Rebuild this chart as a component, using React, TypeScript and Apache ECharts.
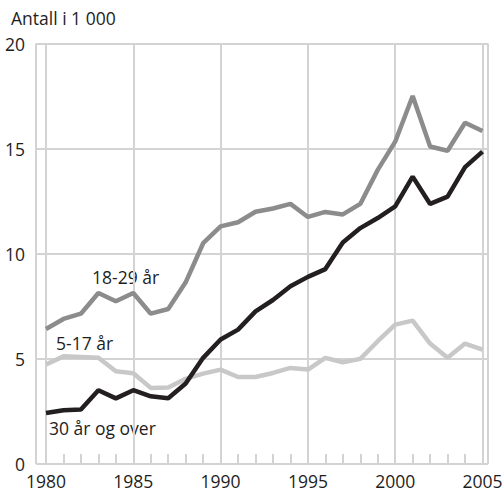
import React, { useEffect, useRef } from "react";
import * as echarts from "echarts";

const years = [1980,1981,1982,1983,1984,1985,1986,1987,1988,1989,1990,1991,1992,1993,1994,1995,1996,1997,1998,1999,2000,2001,2002,2003,2004,2005];
const age18to29 = [6.42,6.9,7.15,8.13,7.74,8.13,7.15,7.37,8.64,10.5,11.3,11.5,12.0,12.15,12.37,11.75,11.99,11.87,12.37,13.99,15.33,17.5,15.1,14.9,16.23,15.84];
const age30plus = [2.43,2.56,2.59,3.51,3.12,3.51,3.22,3.13,3.83,5.05,5.92,6.39,7.26,7.8,8.45,8.9,9.27,10.54,11.22,11.7,12.25,13.67,12.37,12.72,14.12,14.86];
const age5to17 = [4.73,5.12,5.09,5.05,4.41,4.32,3.62,3.64,4.05,4.3,4.49,4.14,4.14,4.33,4.57,4.49,5.05,4.84,5.0,5.84,6.63,6.82,5.73,5.05,5.73,5.44];
const seriesNames = ["18-29 år", "5-17 år", "30 år og over"];
const yTitle = "Antall i 1 000";

const FONT = "'Open Sans', sans-serif";
const GRID = "#d3d3d3";
const TEXT = "#1e1e1e";
const FS = 17.5;

export default function App() {
  const ref = useRef<HTMLDivElement>(null);
  useEffect(() => {
    if (!ref.current) return;
    const chart = echarts.init(ref.current, null, { renderer: "svg" });
    const pairs = (vals: number[]) => years.map((y, i) => [y, vals[i]]);
    chart.setOption({
      animation: false,
      textStyle: { fontFamily: FONT },
      grid: [
        { left: 36, right: 15, top: 43.5, bottom: 26, outerBoundsMode: "none" },
        { left: 46, right: 20.5, top: 43.5, bottom: 26, outerBoundsMode: "none" },
      ],
      xAxis: [
        {
          gridIndex: 0, type: "value", min: 0, max: 1, interval: 1,
          axisLine: { show: false }, axisTick: { show: false }, axisLabel: { show: false },
          splitLine: { show: true, lineStyle: { color: GRID, width: 2 } },
        },
        {
          gridIndex: 1, type: "value", min: 1980, max: 2005, interval: 5,
          axisLine: { show: false },
          axisTick: { show: false },
          axisLabel: { show: true, color: TEXT, fontSize: FS, fontFamily: FONT, margin: 8, formatter: (v: number) => String(v) },
          splitLine: { show: true, lineStyle: { color: GRID, width: 2 } },
        },
        {
          gridIndex: 1, type: "value", min: 1980, max: 2005, interval: 1, position: "bottom",
          axisLine: { show: false },
          axisTick: { show: true, inside: true, length: 10, lineStyle: { color: GRID, width: 2 } },
          axisLabel: { show: false },
          splitLine: { show: false },
        },
      ],
      yAxis: [
        {
          gridIndex: 0, type: "value", min: 0, max: 20, interval: 5,
          axisLine: { show: false }, axisTick: { show: false },
          axisLabel: { show: true, color: TEXT, fontSize: FS, fontFamily: FONT, margin: 11, padding: [6, 0, 0, 0] },
          splitLine: { show: true, lineStyle: { color: GRID, width: 2 } },
        },
        {
          gridIndex: 1, type: "value", min: 0, max: 20, interval: 5,
          axisLine: { show: false }, axisTick: { show: false }, axisLabel: { show: false }, splitLine: { show: false },
        },
      ],
      series: [
        {
          name: seriesNames[1], type: "line", xAxisIndex: 1, yAxisIndex: 1, data: pairs(age5to17),
          symbol: "none", lineStyle: { color: "#c8c8c8", width: 4.5 }, z: 3,
        },
        {
          name: seriesNames[0], type: "line", xAxisIndex: 1, yAxisIndex: 1, data: pairs(age18to29),
          symbol: "none", lineStyle: { color: "#8c8c8c", width: 4.5 }, z: 4,
        },
        {
          name: seriesNames[2], type: "line", xAxisIndex: 1, yAxisIndex: 1, data: pairs(age30plus),
          symbol: "none", lineStyle: { color: "#231f20", width: 4.5 }, z: 5,
        },
      ],
      graphic: [
        { type: "text", left: 11, top: 9, style: { text: yTitle, fill: TEXT, font: `${FS}px ${FONT}` } },
        { type: "text", left: 92, top: 268, style: { text: seriesNames[0], fill: TEXT, font: `${FS}px ${FONT}` } },
        { type: "text", left: 56, top: 334, style: { text: seriesNames[1], fill: TEXT, font: `${FS}px ${FONT}` } },
        { type: "text", left: 49, top: 419, style: { text: seriesNames[2], fill: TEXT, font: `${FS}px ${FONT}` } },
      ],
    });
    return () => chart.dispose();
  }, []);
  return <div ref={ref} style={{ width: 503, height: 490, position: "absolute", left: 0, top: 0 }} />;
}
